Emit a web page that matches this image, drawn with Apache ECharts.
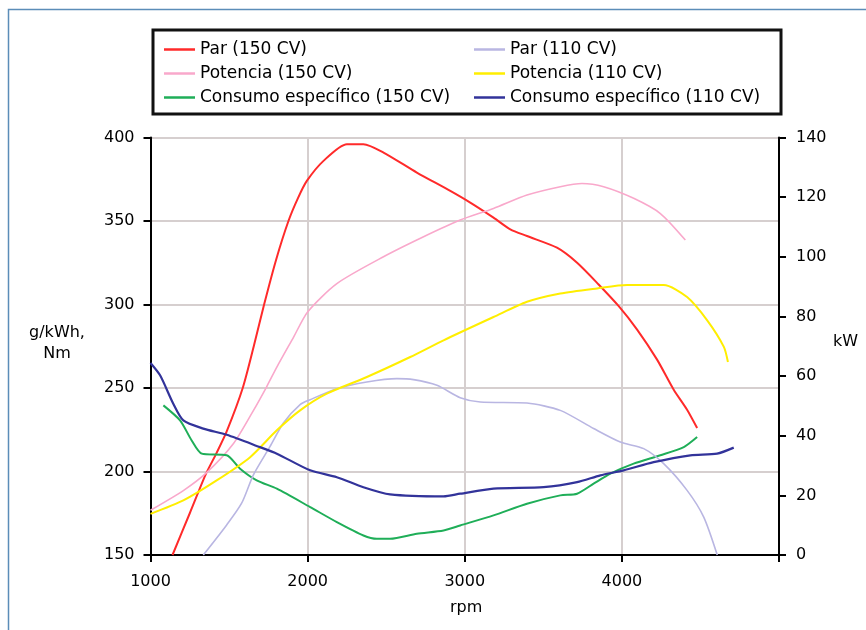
<!DOCTYPE html>
<html>
<head>
<meta charset="utf-8">
<script src="https://cdn.jsdelivr.net/npm/echarts@6/dist/echarts.min.js"></script>
<style>
html,body{margin:0;padding:0;background:#fff;}
#chart{width:866px;height:630px;}
</style>
</head>
<body>
<div id="chart"></div>
<script>
// ---- Data ----
const seriesNames = ['Par (150 CV)', 'Potencia (150 CV)', 'Consumo específico (150 CV)',
                     'Par (110 CV)', 'Potencia (110 CV)', 'Consumo específico (110 CV)'];

// Par 150 CV (Nm, left axis)
const par150Rpm = [1140,1250,1350,1420,1485,1587,1660,1723,1800,1878,1940,1995,2101,2250,2355,2483,2695,2908,3035,3183,3290,3396,3587,3715,3852,3980,4097,4224,4330,4415,4479];
const par150Val = [150,175,198,211,224,250,276,300,327,350,364,374,386,396,396,391,379,368,361,352,345,341,334,325,312,299,285,267,249,237,226];

// Potencia 150 CV (kW, right axis)
const pot150Rpm = [1000,1209,1357,1527,1650,1740,1804,1910,2000,2186,2483,2738,2971,3183,3396,3608,3746,3884,4075,4245,4404];
const pot150Val = [15,21.6,27.6,37.3,48,56.5,63,73,81.5,91,100,106.7,112.3,116.2,120.7,123.5,124.6,123.5,119.6,114.5,105.6];

// Consumo especifico 150 CV (g/kWh, left axis)
const con150Rpm = [1082,1188,1262,1326,1485,1570,1676,1804,2016,2186,2355,2441,2525,2695,2865,2971,3183,3396,3608,3715,3820,3927,4075,4245,4394,4479];
const con150Val = [239.6,230.6,218.6,210.7,209.7,201.7,194.7,189.7,178.7,169.7,161.7,159.7,159.7,162.7,164.7,167.7,173.7,180.7,185.7,186.7,192.7,198.7,204.7,209.7,214.6,220.6];

// Par 110 CV (Nm, left axis)
const par110Rpm = [1336,1485,1580,1655,1761,1846,1952,2016,2186,2377,2568,2674,2823,2971,3099,3396,3608,3820,3990,4139,4266,4415,4521,4607];
const par110Val = [150,168,181,198,215,229,240,243,249.6,253.6,255.6,255,251.6,244.2,241.6,241,236.6,225.7,217.6,213.7,204.7,188.7,172.7,150];

// Potencia 110 CV (kW, right axis)
const pot110Rpm = [1000,1209,1421,1634,1804,1952,2122,2377,2653,2865,3183,3396,3608,3842,4033,4266,4415,4543,4649,4675];
const pot110Val = [13.8,18.3,25,32.8,41.8,48.5,54.1,59.7,66.4,72,79.8,84.9,87.7,89.4,90.5,90.5,86.5,78.7,69.8,64.7];

// Consumo especifico 110 CV (g/kWh, left axis)
const con110Rpm = [1000,1061,1145,1209,1336,1485,1697,1804,2016,2186,2355,2525,2865,2971,3183,3502,3715,3863,4011,4202,4436,4606,4712];
const con110Val = [265,257.6,240.6,230.6,225.7,222,214.6,210.7,200.7,196.6,190.6,186.3,185.1,186.7,189.7,190.6,193.6,197.7,200.7,205.6,209.7,210.7,214.3];

// Axis ticks
const xTicks = [1000, 2000, 3000, 4000];
const leftTicks = [150, 200, 250, 300, 350, 400];
const rightTicks = [0, 20, 40, 60, 80, 100, 120, 140];

// ---- Chart ----
const FONT = 'DejaVu Sans';
const zip = (a, b) => a.map((x, i) => [x, b[i]]);

const colors = {
  'Par (150 CV)': '#ff2a2a',
  'Potencia (150 CV)': '#f9a8cb',
  'Consumo específico (150 CV)': '#1fae58',
  'Par (110 CV)': '#b9b6e2',
  'Potencia (110 CV)': '#ffee00',
  'Consumo específico (110 CV)': '#32339a'
};

function mkSeries(name, rpm, val, axis, width) {
  return {
    name: name, type: 'line', yAxisIndex: axis,
    data: zip(rpm, val), smooth: 0.25, symbol: 'none',
    lineStyle: { color: colors[name], width: width },
    itemStyle: { color: colors[name] },
    clip: true
  };
}

const chart = echarts.init(document.getElementById('chart'), null, { renderer: 'canvas' });

const legendCommon = {
  orient: 'vertical', top: 36, itemWidth: 31, itemHeight: 12, itemGap: 7,
  icon: 'path://M0,5 L31,5 L31,7.5 L0,7.5 Z',
  textStyle: { fontFamily: FONT, fontSize: 17, color: '#000' },
  selectedMode: false
};

chart.setOption({
  animation: false,
  backgroundColor: '#fff',
  textStyle: { fontFamily: FONT },
  grid: { left: 150.5, right: 87, top: 137.5, bottom: 75, containLabel: false },
  legend: [
    Object.assign({}, legendCommon, { left: 159, data: [seriesNames[0], seriesNames[1], seriesNames[2]] }),
    Object.assign({}, legendCommon, { left: 469, data: [seriesNames[3], seriesNames[4], seriesNames[5]] })
  ],
  xAxis: {
    type: 'value', min: 1000, max: 5000, interval: 1000,
    axisLine: { lineStyle: { color: '#000', width: 2 } },
    axisTick: { show: true, length: 7, lineStyle: { color: '#000', width: 2 } },
    axisLabel: {
      fontFamily: FONT, fontSize: 16, color: '#000', margin: 19,
      formatter: v => xTicks.indexOf(v) >= 0 ? String(v) : ''
    },
    splitLine: { show: true, lineStyle: { color: '#d6cfcf', width: 2 } }
  },
  yAxis: [
    {
      type: 'value', min: leftTicks[0], max: leftTicks[leftTicks.length - 1], interval: 50,
      position: 'left',
      axisLine: { show: true, lineStyle: { color: '#000', width: 2 } },
      axisTick: { show: true, length: 7, lineStyle: { color: '#000', width: 2 } },
      axisLabel: { fontFamily: FONT, fontSize: 16, color: '#000', margin: 16 },
      splitLine: { show: true, lineStyle: { color: '#d6cfcf', width: 2 } }
    },
    {
      type: 'value', min: rightTicks[0], max: rightTicks[rightTicks.length - 1], interval: 20,
      position: 'right',
      axisLine: { show: true, lineStyle: { color: '#000', width: 2 } },
      axisTick: { show: true, length: 7, lineStyle: { color: '#000', width: 2 } },
      axisLabel: { fontFamily: FONT, fontSize: 16, color: '#000', margin: 17 },
      splitLine: { show: false }
    }
  ],
  graphic: [
    { type: 'rect', shape: { x: 8.5, y: 9.5, width: 900, height: 700 }, style: { fill: 'none', stroke: '#5b8db8', lineWidth: 1.5 }, silent: true, z: -10 },
    { type: 'rect', shape: { x: 153, y: 30, width: 628, height: 84 }, style: { fill: 'none', stroke: '#111', lineWidth: 3 }, silent: true },
    { type: 'text', left: 22, top: 322, style: { text: 'g/kWh,\nNm', fontFamily: FONT, fontSize: 16, fill: '#000', textAlign: 'center', lineHeight: 21, width: 70 }, silent: true },
    { type: 'text', left: 833, top: 334, style: { text: 'kW', fontFamily: FONT, fontSize: 16, fill: '#000' }, silent: true },
    { type: 'text', left: 450, top: 600, style: { text: 'rpm', fontFamily: FONT, fontSize: 16, fill: '#000' }, silent: true }
  ],
  series: [
    mkSeries(seriesNames[0], par150Rpm, par150Val, 0, 2),
    mkSeries(seriesNames[1], pot150Rpm, pot150Val, 1, 1.6),
    mkSeries(seriesNames[2], con150Rpm, con150Val, 0, 2),
    mkSeries(seriesNames[3], par110Rpm, par110Val, 0, 1.6),
    mkSeries(seriesNames[4], pot110Rpm, pot110Val, 1, 2),
    mkSeries(seriesNames[5], con110Rpm, con110Val, 0, 2.2)
  ]
});
</script>
</body>
</html>
